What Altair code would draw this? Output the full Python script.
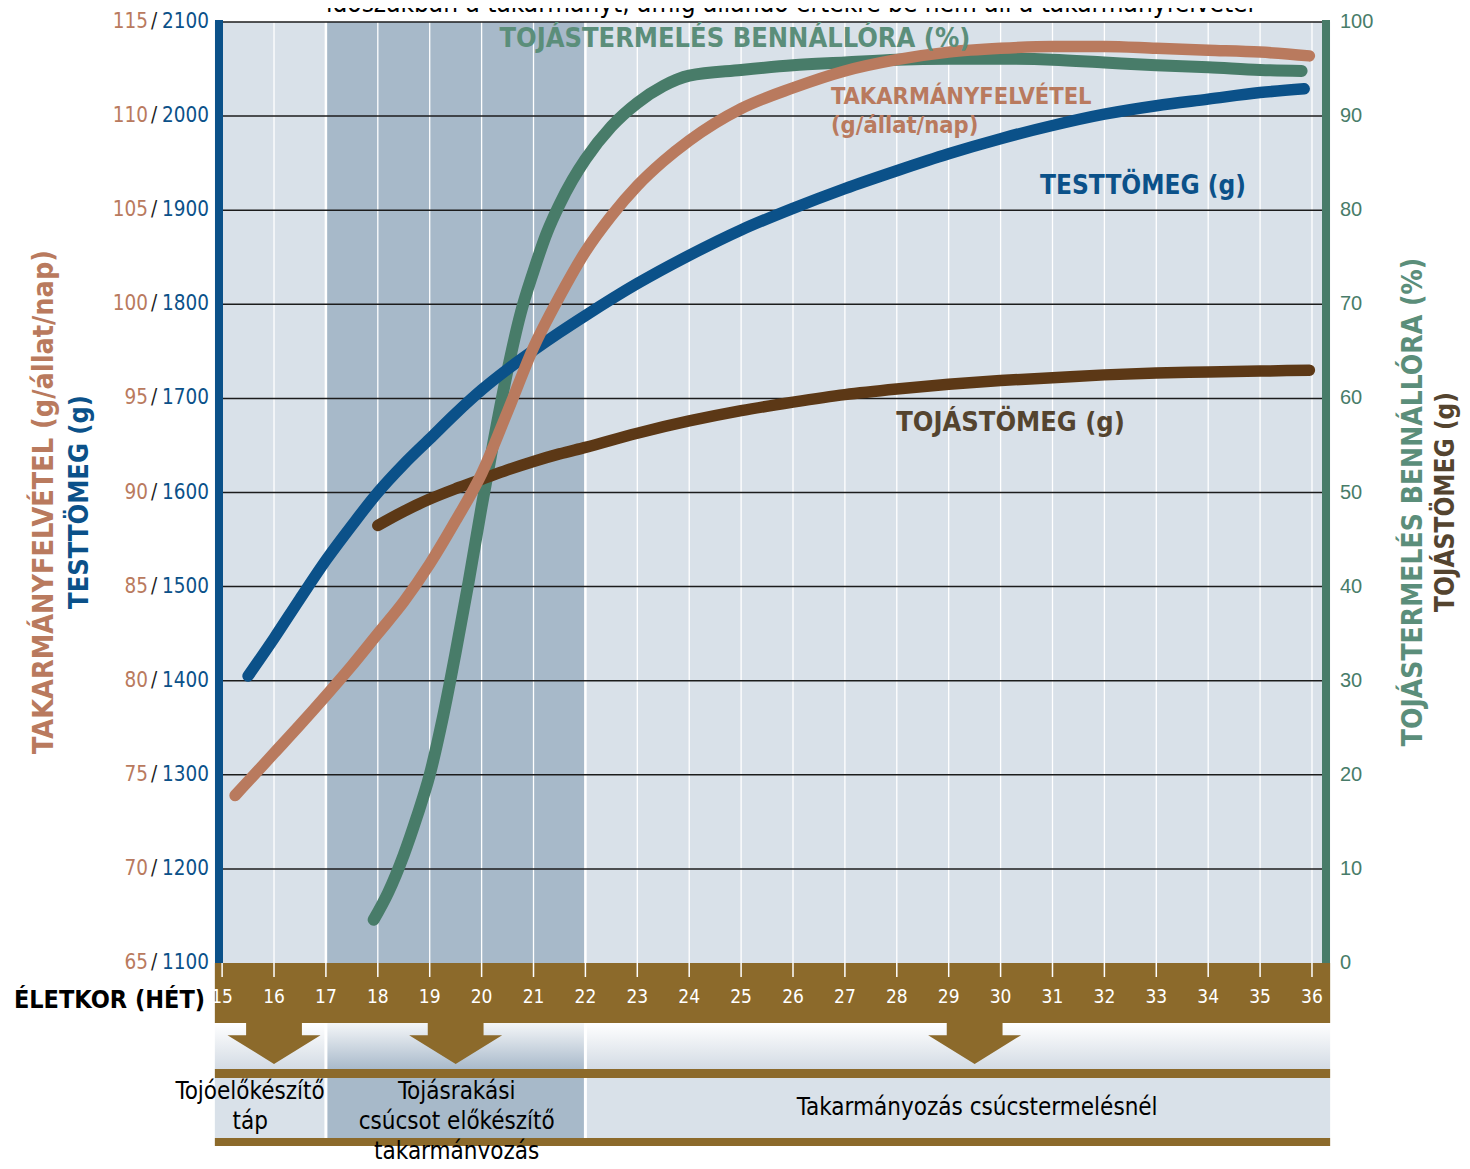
import altair as alt
import pandas as pd

# ---------------- data ----------------
weeks = [15, 16, 17, 18, 19, 20, 21, 22, 23, 24, 25, 26, 27, 28, 29, 30, 31, 32, 33, 34, 35, 36]
week_labels = [str(w) for w in weeks]

# body weight (g) - TESTTÖMEG
bw_week = [15.5, 16, 16.5, 17, 17.5, 18, 18.5, 19, 19.5, 20, 20.5, 21, 21.5, 22,
           23, 24, 25, 26, 27, 28, 29, 30, 31, 32, 33, 34, 35, 35.85]
bw_val = [1405, 1445, 1487, 1528, 1565, 1600, 1630, 1657, 1684, 1709, 1731, 1751, 1770, 1788,
          1822, 1852, 1879, 1902, 1923, 1942, 1960, 1976, 1990, 2002, 2011, 2018, 2025, 2029]

# feed intake (g/bird/day) - TAKARMÁNYFELVÉTEL
feed_week = [15.25, 15.5, 16, 16.5, 17, 17.5, 18, 18.5, 19, 19.5, 20, 20.5, 21, 21.5, 22,
             22.5, 23, 23.5, 24, 25, 26, 27, 28, 29, 30, 31, 32, 33, 34, 35, 35.95]
feed_val = [73.9, 74.65, 76.15, 77.65, 79.2, 80.8, 82.5, 84.2, 86.2, 88.5, 91.0, 94.3, 97.7, 100.4, 102.8,
            104.7, 106.3, 107.6, 108.7, 110.4, 111.5, 112.4, 113.0, 113.4, 113.6, 113.7, 113.7, 113.6,
            113.5, 113.4, 113.2]

# hen-house egg production (%) - TOJÁSTERMELÉS BENNÁLLÓRA
prod_week = [17.92, 18.2, 18.5, 18.75, 19, 19.25, 19.5, 19.75, 20, 20.25, 20.5, 20.75, 21, 21.25,
             21.5, 21.75, 22, 22.5, 23, 23.5, 24, 25, 26, 27, 28, 29, 30, 31, 32, 33, 34, 35, 35.8]
prod_val = [4.6, 7.5, 11.5, 15.5, 20.0, 26.0, 33.0, 40.5, 48.5, 56.0, 63.0, 69.0, 73.5, 77.5,
            80.6, 83.2, 85.4, 88.9, 91.4, 93.2, 94.3, 94.9, 95.4, 95.7, 96.0, 96.1, 96.1, 96.0,
            95.7, 95.4, 95.2, 94.9, 94.8]

# egg mass (g) - TOJÁSTÖMEG
mass_week = [18, 18.5, 19, 19.5, 20, 20.5, 21, 21.5, 22, 23, 24, 25, 26, 27, 28, 29, 30, 31,
             32, 33, 34, 35, 35.95]
mass_val = [46.5, 48.0, 49.3, 50.4, 51.4, 52.4, 53.3, 54.1, 54.8, 56.3, 57.6, 58.7, 59.6, 60.4,
            61.0, 61.5, 61.9, 62.2, 62.5, 62.7, 62.8, 62.9, 63.0]

# axis tick labels
feed_ticks = [65, 70, 75, 80, 85, 90, 95, 100, 105, 110, 115]
bw_ticks = [1100, 1200, 1300, 1400, 1500, 1600, 1700, 1800, 1900, 2000, 2100]
pct_ticks = [0, 10, 20, 30, 40, 50, 60, 70, 80, 90, 100]
grid_feed = [70, 75, 80, 85, 90, 95, 100, 105, 110, 115]

# feeding phases (weeks)
phase_start = [14.86, 17, 22]
phase_end = [17, 22, 36.35]
phase_dark = ["light", "dark", "light"]
phase_bound = [17, 22]
arrow_week = [16, 19.5, 29.5]
phase_multi = ["Tojóelőkészítő\ntáp", "Tojásrakási\ncsúcsot előkészítő\ntakarmányozás"]
phase_multi_week = [15.54, 19.52]
phase_single = ["Takarmányozás csúcstermelésnél"]
phase_single_week = [29.55]

# in-plot series labels
lbl_prod = ["TOJÁSTERMELÉS BENNÁLLÓRA (%)"]
lbl_prod_pos = [24.88, 98.2]
lbl_feed = ["TAKARMÁNYFELVÉTEL", "(g/állat/nap)"]
lbl_feed_week = [26.73, 26.73]
lbl_feed_val = [111.0, 109.45]
lbl_bw = ["TESTTÖMEG (g)"]
lbl_bw_pos = [30.76, 1926]
lbl_mass = ["TOJÁSTÖMEG (g)"]
lbl_mass_pos = [27.99, 57.4]

title_text = ["időszakban a takarmányt, amíg állandó értékre be nem áll a takarmányfelvétel"]
xaxis_title = ["ÉLETKOR (HÉT)"]

# ---------------- style ----------------
W, H = 1107, 941
LIGHT = "#d9e1e9"
DARK = "#a7b9c9"
BROWN = "#8c6a2b"
BLUE = "#0b5189"
SALMON = "#b97a5e"
GREEN = "#487c69"
GREEN_TXT = "#5b8e7a"
EGG = "#5c3816"
EGG_TXT = "#54442f"
NARROW = "Liberation Sans Narrow, Arial Narrow, DejaVu Sans Condensed, sans-serif"

X = alt.Scale(domain=[14.94, 36.27], nice=False, zero=False)
Y_FEED = alt.Scale(domain=[65, 115], nice=False, zero=False)
Y_BW = alt.Scale(domain=[1100, 2100], nice=False, zero=False)
Y_PCT = alt.Scale(domain=[0, 100], nice=False, zero=False)


def xq(field):
    return alt.X(f"{field}:Q", scale=X, axis=None)


def x2q(field):
    return alt.X2(f"{field}:Q")


layers = []

# background phases in plot area
ph = pd.DataFrame({"s": phase_start, "e": phase_end, "k": phase_dark})
layers.append(
    alt.Chart(ph).mark_rect().encode(
        x=xq("s"), x2=x2q("e"), y=alt.value(0), y2=alt.value(H),
        fill=alt.Fill("k:N", scale=alt.Scale(domain=["light", "dark"], range=[LIGHT, DARK]), legend=None),
    )
)

# weekly white lines
wk = pd.DataFrame({"week": weeks, "label": week_labels})
layers.append(
    alt.Chart(wk).mark_rule(color="white", strokeWidth=1.3).encode(
        x=xq("week"), y=alt.value(0), y2=alt.value(H))
)
bd = pd.DataFrame({"week": phase_bound})
layers.append(
    alt.Chart(bd).mark_rule(color="white", strokeWidth=2.5).encode(
        x=xq("week"), y=alt.value(0), y2=alt.value(H))
)

# horizontal grid lines
gr = pd.DataFrame({"v": grid_feed})
layers.append(
    alt.Chart(gr).mark_rule(color="#1c1c1c", strokeWidth=1.5).encode(
        y=alt.Y("v:Q", scale=Y_FEED, axis=None), x=alt.value(0), x2=alt.value(W))
)

# axis bars
one = pd.DataFrame({"a": [0]})
layers.append(alt.Chart(one).mark_rect(color=BLUE).encode(
    x=alt.value(-4), x2=alt.value(4), y=alt.value(-2), y2=alt.value(H)))
layers.append(alt.Chart(one).mark_rect(color=GREEN).encode(
    x=alt.value(W - 4), x2=alt.value(W + 4), y=alt.value(-2), y2=alt.value(H)))

# ---- bottom section ----
band = pd.DataFrame({"s": [phase_start[0]], "e": [phase_end[-1]]})
layers.append(alt.Chart(band).mark_rect(color=BROWN).encode(
    x=xq("s"), x2=x2q("e"), y=alt.value(H), y2=alt.value(H + 60)))
layers.append(alt.Chart(wk).mark_rule(color="white", strokeWidth=1.5).encode(
    x=xq("week"), y=alt.value(H), y2=alt.value(H + 14)))
layers.append(alt.Chart(wk).mark_text(color="white", font=NARROW, fontSize=19, baseline="middle").encode(
    x=xq("week"), y=alt.value(H + 34), text="label:N"))
layers.append(alt.Chart(pd.DataFrame({"t": xaxis_title})).mark_text(
    color="black", font=NARROW, fontSize=25, fontWeight="bold", align="right", baseline="middle").encode(
    x=alt.value(-14), y=alt.value(H + 37), text="t:N"))

grad_light = {"gradient": "linear", "x1": 0, "x2": 0, "y1": 0, "y2": 1,
              "stops": [{"offset": 0, "color": "#ffffff"}, {"offset": 1, "color": "#d3dbe4"}]}
grad_dark = {"gradient": "linear", "x1": 0, "x2": 0, "y1": 0, "y2": 1,
             "stops": [{"offset": 0, "color": "#f4f6f8"}, {"offset": 1, "color": "#a9bacb"}]}
ph_l = ph[ph["k"] == "light"]
ph_d = ph[ph["k"] == "dark"]
layers.append(alt.Chart(ph_l).mark_rect(fill=grad_light).encode(
    x=xq("s"), x2=x2q("e"), y=alt.value(H + 60), y2=alt.value(H + 106)))
layers.append(alt.Chart(ph_d).mark_rect(fill=grad_dark).encode(
    x=xq("s"), x2=x2q("e"), y=alt.value(H + 60), y2=alt.value(H + 106)))
layers.append(alt.Chart(ph).mark_rect().encode(
    x=xq("s"), x2=x2q("e"), y=alt.value(H + 115), y2=alt.value(H + 175),
    fill=alt.Fill("k:N", scale=alt.Scale(domain=["light", "dark"], range=[LIGHT, DARK]), legend=None)))
layers.append(alt.Chart(bd).mark_rule(color="white", strokeWidth=3).encode(
    x=xq("week"), y=alt.value(H + 60), y2=alt.value(H + 176)))
layers.append(alt.Chart(band).mark_rect(color=BROWN).encode(
    x=xq("s"), x2=x2q("e"), y=alt.value(H + 106), y2=alt.value(H + 115)))
layers.append(alt.Chart(band).mark_rect(color=BROWN).encode(
    x=xq("s"), x2=x2q("e"), y=alt.value(H + 175), y2=alt.value(H + 183)))

arrow_path = "M-0.6,-0.44L0.6,-0.44L0.6,-0.18L1,-0.18L0,0.44L-1,-0.18L-0.6,-0.18Z"
layers.append(alt.Chart(pd.DataFrame({"week": arrow_week})).mark_point(
    shape=arrow_path, filled=True, fill=BROWN, fillOpacity=1, strokeWidth=0, size=8649).encode(
    x=xq("week"), y=alt.value(H + 80.5)))

layers.append(alt.Chart(pd.DataFrame({"t": phase_multi, "week": phase_multi_week})).mark_text(
    color="black", font=NARROW, fontSize=24, lineHeight=30, baseline="alphabetic", lineBreak="\n").encode(
    x=xq("week"), y=alt.value(H + 136), text="t:N"))
layers.append(alt.Chart(pd.DataFrame({"t": phase_single, "week": phase_single_week})).mark_text(
    color="black", font=NARROW, fontSize=24, baseline="middle").encode(
    x=xq("week"), y=alt.value(H + 145), text="t:N"))

# ---- curves ----
def curve(weeks_, vals, scale, color, width):
    df = pd.DataFrame({"week": weeks_, "v": vals})
    return alt.Chart(df).mark_line(color=color, strokeWidth=width, strokeCap="round",
                                   strokeJoin="round", interpolate="monotone").encode(
        x=xq("week"), y=alt.Y("v:Q", scale=scale, axis=None))


layers.append(curve(prod_week, prod_val, Y_PCT, GREEN, 12))
layers.append(curve(mass_week, mass_val, Y_PCT, EGG, 11.5))
layers.append(curve(bw_week, bw_val, Y_BW, BLUE, 11.5))
layers.append(curve(feed_week, feed_val, Y_FEED, SALMON, 11.5))

# ---- series labels ----
layers.append(alt.Chart(pd.DataFrame({"t": lbl_prod, "week": [lbl_prod_pos[0]], "v": [lbl_prod_pos[1]]})).mark_text(
    color=GREEN_TXT, font=NARROW, fontSize=27, fontWeight="bold", baseline="middle").encode(
    x=xq("week"), y=alt.Y("v:Q", scale=Y_PCT, axis=None), text="t:N"))
layers.append(alt.Chart(pd.DataFrame({"t": lbl_feed, "week": lbl_feed_week, "v": lbl_feed_val})).mark_text(
    color=SALMON, font=NARROW, fontSize=23.5, fontWeight="bold", align="left", baseline="middle").encode(
    x=xq("week"), y=alt.Y("v:Q", scale=Y_FEED, axis=None), text="t:N"))
layers.append(alt.Chart(pd.DataFrame({"t": lbl_bw, "week": [lbl_bw_pos[0]], "v": [lbl_bw_pos[1]]})).mark_text(
    color=BLUE, font=NARROW, fontSize=26, fontWeight="bold", align="left", baseline="middle").encode(
    x=xq("week"), y=alt.Y("v:Q", scale=Y_BW, axis=None), text="t:N"))
layers.append(alt.Chart(pd.DataFrame({"t": lbl_mass, "week": [lbl_mass_pos[0]], "v": [lbl_mass_pos[1]]})).mark_text(
    color=EGG_TXT, font=NARROW, fontSize=27, fontWeight="bold", align="left", baseline="middle").encode(
    x=xq("week"), y=alt.Y("v:Q", scale=Y_PCT, axis=None), text="t:N"))

# ---- left tick labels ----
lt = pd.DataFrame({"f": feed_ticks, "b": bw_ticks, "s": ["/"] * len(feed_ticks)})
layers.append(alt.Chart(lt).mark_text(color=BLUE, font=NARROW, fontSize=20.5, align="right", baseline="middle").encode(
    x=alt.value(-10), y=alt.Y("f:Q", scale=Y_FEED, axis=None), text="b:N"))
layers.append(alt.Chart(lt).mark_text(color="#222222", font=NARROW, fontSize=20.5, align="center", baseline="middle").encode(
    x=alt.value(-65), y=alt.Y("f:Q", scale=Y_FEED, axis=None), text="s:N"))
layers.append(alt.Chart(lt).mark_text(color=SALMON, font=NARROW, fontSize=20.5, align="right", baseline="middle").encode(
    x=alt.value(-71), y=alt.Y("f:Q", scale=Y_FEED, axis=None), text="f:N"))

# ---- right tick labels ----
rt = pd.DataFrame({"p": pct_ticks})
layers.append(alt.Chart(rt).mark_text(color=GREEN, font="Liberation Sans", fontSize=20, align="left", baseline="middle").encode(
    x=alt.value(W + 14), y=alt.Y("p:Q", scale=Y_PCT, axis=None), text="p:N"))

# ---- axis titles ----
def vtitle(text, x, color, size):
    return alt.Chart(pd.DataFrame({"t": [text]})).mark_text(
        color=color, font=NARROW, fontSize=size, fontWeight="bold", angle=270,
        align="center", baseline="middle").encode(x=alt.value(x), y=alt.value(480), text="t:N")


layers.append(vtitle("TAKARMÁNYFELVÉTEL (g/állat/nap)", -175, SALMON, 28.5))
layers.append(vtitle("TESTTÖMEG (g)", -139, BLUE, 27))
layers.append(vtitle("TOJÁSTERMELÉS BENNÁLLÓRA (%)", W + 88, GREEN_TXT, 28))
layers.append(vtitle("TOJÁSTÖMEG (g)", W + 120, EGG_TXT, 26))

# ---- cut-off heading ----
layers.append(alt.Chart(pd.DataFrame({"t": title_text})).mark_text(
    color="black", font=NARROW, fontSize=26, baseline="alphabetic").encode(
    x=alt.value(571), y=alt.value(-10), text="t:N"))

chart = alt.layer(*layers).resolve_scale(y="independent", fill="independent").properties(
    width=W, height=H,
    autosize=alt.AutoSizeParams(type="none"),
    padding={"left": 211, "top": 14, "right": 136, "bottom": 196},
    background="white",
).configure_view(strokeWidth=0)

chart.save("out.html", embed_options={"renderer": "svg", "actions": False})
